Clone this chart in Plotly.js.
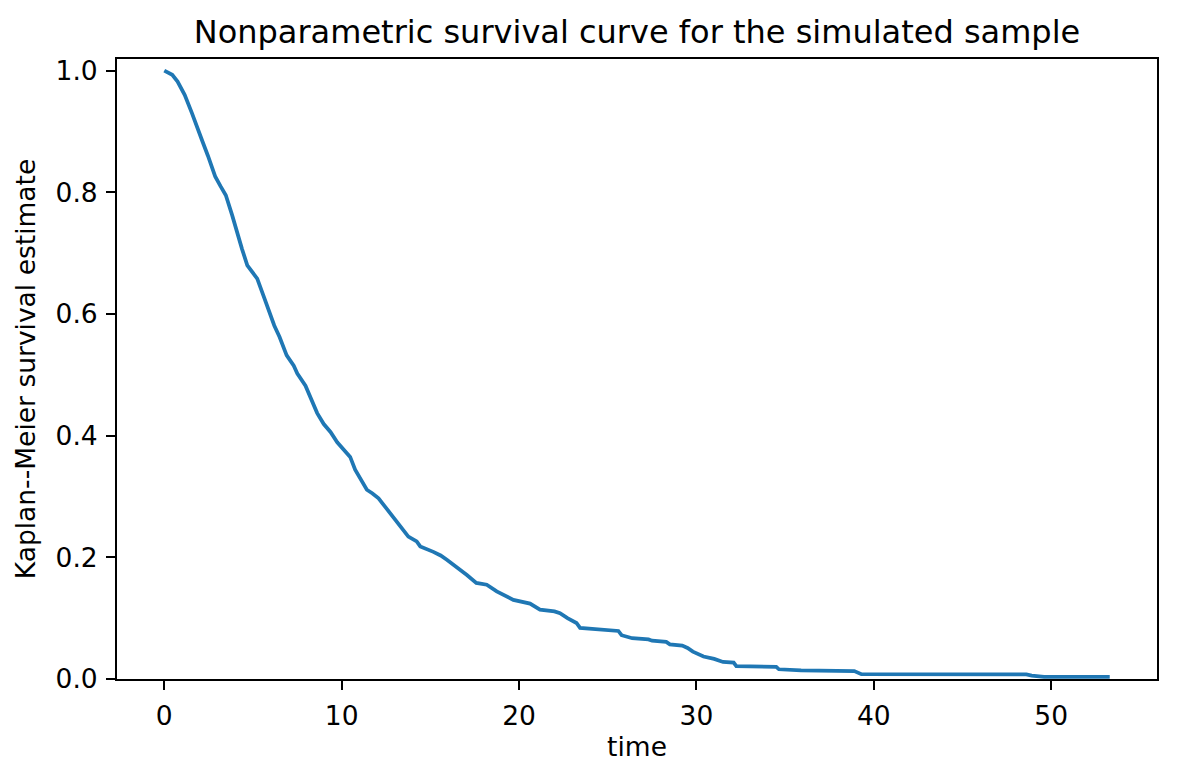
<!DOCTYPE html>
<html>
<head>
<meta charset="utf-8">
<script src="https://cdn.plot.ly/plotly-3.0.1.min.js"></script>
<style>
  html, body { margin: 0; padding: 0; background: #fff; }
  #chart { width: 1177px; height: 780px; }
</style>
</head>
<body>
<div id="chart"></div>
<script>
// points (time, survival)
var times = [
  0, 0.45, 0.75, 1.15, 1.56, 1.86, 2.16, 2.46, 2.87, 3.17, 3.47, 3.83, 4.08, 4.38, 4.68,
  4.99, 5.24, 5.59, 5.89, 6.2, 6.5, 6.9, 7.3, 7.5, 7.96, 8.24, 8.62, 8.99, 9.37, 9.75,
  10.13, 10.48, 10.76, 11.14, 11.42, 11.74, 12.08, 12.4, 12.73, 13.05, 13.3, 13.76, 14.23,
  14.43, 15.17, 15.58, 15.93, 16.58, 17.06, 17.59, 18.18, 18.74, 19.2, 19.68, 20.62, 21.18,
  22.0, 22.31, 22.73, 23.24, 23.44, 24.55, 25.6, 25.78, 26.38, 27.3, 27.5, 28.3, 28.5,
  29.2, 29.5, 29.8, 30.4, 31.0, 31.5, 32.1, 32.25, 34.5, 34.65, 35.9, 38.9, 39.3, 48.6,
  48.9, 49.5, 49.6, 53.3
];
var survival = [
  1.0, 0.993, 0.982, 0.96, 0.93, 0.905, 0.883, 0.86, 0.826, 0.81, 0.795, 0.762, 0.735, 0.707, 0.68,
  0.668, 0.658, 0.63, 0.605, 0.581, 0.562, 0.532, 0.515, 0.502, 0.482, 0.462, 0.437, 0.419, 0.406, 0.389,
  0.377, 0.365, 0.344, 0.325, 0.311, 0.305, 0.297, 0.285, 0.273, 0.26, 0.25, 0.234, 0.226,
  0.218, 0.209, 0.203, 0.196, 0.182, 0.171, 0.158, 0.155, 0.144, 0.137, 0.13, 0.124, 0.114,
  0.111, 0.108, 0.1, 0.092, 0.084, 0.082, 0.079, 0.072, 0.067, 0.065, 0.063, 0.061, 0.057,
  0.055, 0.051, 0.045, 0.037, 0.033, 0.028, 0.027, 0.021, 0.02, 0.016, 0.014, 0.013, 0.008, 0.0075,
  0.0055, 0.0045, 0.0035, 0.0035
];
var xTicks = [0, 10, 20, 30, 40, 50];
var yTicks = [0, 0.2, 0.4, 0.6, 0.8, 1.0];

var km = {
  x: times,
  y: survival,
  type: "scatter",
  mode: "lines",
  line: { color: "#1f77b4", width: 3.75, shape: "linear" },
  hoverinfo: "x+y"
};

var layout = {
  width: 1177,
  height: 780,
  paper_bgcolor: "#fff",
  plot_bgcolor: "#fff",
  font: { family: "DejaVu Sans", size: 26.5, color: "#000" },
  margin: { l: 117, r: 20, t: 59, b: 101, pad: 0 },
  showlegend: false,
  title: {
    text: "Nonparametric survival curve for the simulated sample",
    font: { size: 32, color: "#000" },
    x: 0.5,
    xref: "paper",
    y: 1 - 32 / 780,
    yref: "container",
    yanchor: "middle"
  },
  xaxis: {
    range: [-2.665, 55.965],
    tickvals: xTicks,
    ticktext: xTicks.map(String),
    ticks: "outside",
    ticklen: 9,
    tickwidth: 2,
    tickcolor: "#000",
    ticklabelstandoff: 3,
    showline: true,
    linecolor: "#000",
    linewidth: 2,
    mirror: true,
    showgrid: false,
    zeroline: false,
    automargin: false,
    title: { text: "time", font: { size: 26.5 }, standoff: 8 }
  },
  yaxis: {
    range: [0, 1.019],
    tickvals: yTicks,
    ticktext: yTicks.map(function (v) { return v.toFixed(1); }),
    ticks: "outside",
    ticklen: 9,
    tickwidth: 2,
    tickcolor: "#000",
    ticklabelstandoff: 3,
    showline: true,
    linecolor: "#000",
    linewidth: 2,
    mirror: true,
    showgrid: false,
    zeroline: false,
    automargin: false,
    title: { text: "Kaplan--Meier survival estimate", font: { size: 26.5 }, standoff: 12 }
  }
};

Plotly.newPlot("chart", [km], layout, { displayModeBar: false, staticPlot: true });
</script>
</body>
</html>
